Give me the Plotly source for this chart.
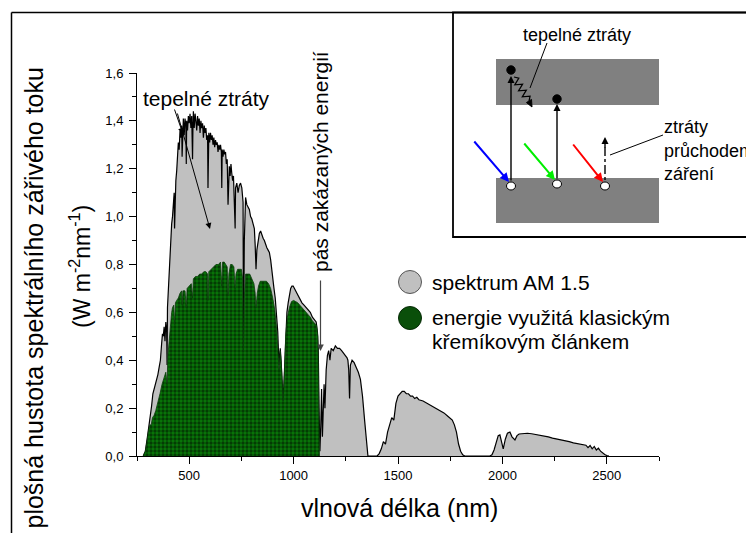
import math
import plotly.graph_objects as go

# ---------------- data ----------------
wl_am15 = [
    280, 290, 300, 305, 310, 316, 320, 326, 332, 340,
    350, 356, 362, 368, 372, 376, 380, 384, 388, 392,
    394, 396, 400, 404, 408, 412, 416, 420, 424, 428,
    430, 432, 436,
    440, 444, 448, 452, 456, 460, 464, 466, 468, 472,
    476, 480, 484, 486, 488, 492, 496, 500, 504, 508,
    512, 516, 518, 520, 524, 528, 532, 536, 540, 544,
    548, 552, 556, 560, 564, 568, 572, 576, 580, 584,
    588, 590, 594, 598, 602, 606, 610, 614, 618, 622,
    626, 630, 634, 638, 642, 646, 650, 654, 656, 658,
    662, 666, 670, 674, 678, 682, 686, 688, 692, 696,
    700, 704, 708, 712, 716, 720, 722, 728, 734, 740,
    746, 752, 758, 760, 764, 770, 776, 782, 788, 794,
    800, 806, 812, 816, 820, 824, 830, 836, 842, 848,
    854, 860, 866, 872, 878, 884, 890, 896, 900, 906,
    912, 918, 924, 930, 936, 940, 946, 950, 956, 962,
    968, 974, 980, 986, 992, 998, 1004, 1010, 1020, 1030,
    1040, 1050, 1060, 1070, 1080, 1090, 1100, 1108, 1114, 1118,
    1122, 1126, 1130, 1134, 1138, 1142, 1146, 1150, 1156, 1162,
    1168, 1174, 1180, 1190, 1200, 1210, 1220, 1230, 1240, 1250,
    1256, 1260, 1264, 1268, 1272, 1280, 1290, 1300, 1310, 1320,
    1330, 1340, 1350, 1356, 1360, 1400, 1410, 1420, 1430, 1440,
    1450, 1460, 1470, 1480, 1490, 1500, 1510, 1520, 1530, 1540,
    1550, 1560, 1570, 1580, 1590, 1600, 1620, 1640, 1660, 1680,
    1700, 1720, 1740, 1760, 1770, 1780, 1790, 1800, 1810, 1820,
    1940, 1950, 1960, 1970, 1980, 1988, 1996, 2004, 2014, 2024,
    2036, 2046, 2060, 2070, 2080, 2100, 2120, 2140, 2160, 2180,
    2200, 2220, 2240, 2260, 2280, 2300, 2320, 2340, 2360, 2380,
    2400, 2410, 2420, 2430, 2440, 2450, 2460, 2470, 2480, 2490,
    2500, 2510,
]
irr_am15 = [
    0.0, 0.02, 0.08, 0.11, 0.15, 0.17, 0.21, 0.26, 0.28, 0.30,
    0.34, 0.37, 0.40, 0.47, 0.51, 0.50, 0.54, 0.48, 0.56, 0.52,
    0.38, 0.62, 0.70, 0.80, 0.86, 0.93, 0.97, 1.00, 1.05, 1.10,
    0.95, 1.09, 1.15,
    1.19, 1.25, 1.31, 1.28, 1.36, 1.33, 1.38, 1.25, 1.37, 1.41,
    1.34, 1.41, 1.38, 1.22, 1.40, 1.36, 1.42, 1.39, 1.43, 1.37,
    1.42, 1.24, 1.38, 1.44, 1.37, 1.43, 1.40, 1.36, 1.42, 1.38,
    1.41, 1.35, 1.40, 1.37, 1.39, 1.33, 1.38, 1.35, 1.37, 1.32,
    1.34, 1.12, 1.35, 1.31, 1.35, 1.32, 1.34, 1.30, 1.33, 1.29,
    1.32, 1.30, 1.31, 1.27, 1.30, 1.28, 1.30, 1.27, 1.12, 1.28,
    1.25, 1.28, 1.26, 1.27, 1.22, 1.24, 1.05, 1.18, 1.21, 1.17,
    1.22, 1.18, 1.15, 1.17, 1.08, 0.95, 1.12, 1.14, 1.10, 1.13,
    1.14, 1.12, 1.06, 0.45, 0.90, 1.08, 1.05, 1.04, 1.03, 1.00,
    0.99, 0.97, 0.95, 0.88, 0.78, 0.86, 0.90, 0.93, 0.94, 0.92,
    0.91, 0.90, 0.88, 0.87, 0.86, 0.85, 0.82, 0.77, 0.72, 0.70,
    0.66, 0.58, 0.52, 0.38, 0.45, 0.40, 0.30, 0.23, 0.35, 0.52,
    0.60, 0.64, 0.67, 0.70, 0.71, 0.71, 0.70, 0.69, 0.67, 0.65,
    0.64, 0.63, 0.62, 0.61, 0.60, 0.58, 0.57, 0.56, 0.52, 0.45,
    0.20, 0.02, 0.12, 0.28, 0.08, 0.22, 0.30, 0.20, 0.36, 0.42,
    0.44, 0.40, 0.45, 0.44, 0.46, 0.45, 0.45, 0.44, 0.43, 0.42,
    0.41, 0.40, 0.36, 0.24, 0.38, 0.40, 0.39, 0.37, 0.35, 0.32,
    0.25, 0.15, 0.03, 0.0, 0.0, 0.0, 0.01, 0.03, 0.06, 0.05,
    0.10, 0.13, 0.16, 0.15, 0.22, 0.25, 0.26, 0.27, 0.27, 0.26,
    0.26, 0.25, 0.25, 0.24, 0.245, 0.235, 0.23, 0.22, 0.21, 0.20,
    0.19, 0.18, 0.165, 0.15, 0.13, 0.10, 0.05, 0.02, 0.005, 0.0,
    0.0, 0.005, 0.025, 0.06, 0.085, 0.088, 0.06, 0.03, 0.07, 0.095,
    0.10, 0.08, 0.067, 0.085, 0.092, 0.095, 0.095, 0.093, 0.09, 0.088,
    0.085, 0.08, 0.075, 0.072, 0.068, 0.064, 0.06, 0.055, 0.052, 0.048,
    0.045, 0.035, 0.044, 0.03, 0.04, 0.025, 0.033, 0.02, 0.012, 0.006,
    0.002, 0.0,
]

wl_si = [
    280, 290, 296, 300, 306, 312, 318, 324, 332, 340,
    350, 360, 370, 380, 388, 394, 398, 404, 410, 416,
    420, 426, 430, 434, 440, 448, 456, 464, 466, 470,
    480, 486, 490, 500, 510, 516, 520, 530, 540, 550,
    560, 570, 580, 588, 590, 594, 604, 616, 628, 640,
    650, 656, 660, 668, 676, 682, 686, 690, 698, 706,
    714, 720, 724, 732, 740, 750, 756, 760, 764, 770,
    780, 790, 800, 810, 816, 820, 826, 832, 840, 850,
    860, 870, 880, 890, 900, 910, 920, 930, 936, 940,
    946, 950, 956, 962, 970, 980, 990, 1000, 1010, 1020,
    1030, 1040, 1050, 1060, 1070, 1080, 1090, 1100, 1110, 1116,
    1120, 1122, 1124,
]
irr_si = [
    0.0, 0.02, 0.05, 0.08, 0.11, 0.13, 0.13, 0.16, 0.17, 0.19,
    0.22, 0.26, 0.30, 0.33, 0.35, 0.30, 0.42, 0.48, 0.55, 0.60,
    0.62, 0.63, 0.55, 0.64, 0.65, 0.66, 0.68, 0.69, 0.63, 0.69,
    0.69, 0.62, 0.70, 0.71, 0.72, 0.66, 0.74, 0.75, 0.75, 0.76,
    0.76, 0.77, 0.77, 0.76, 0.65, 0.77, 0.78, 0.79, 0.80, 0.80,
    0.81, 0.71, 0.81, 0.81, 0.80, 0.79, 0.67, 0.76, 0.80, 0.80,
    0.79, 0.70, 0.76, 0.78, 0.78, 0.78, 0.74, 0.44, 0.66, 0.76,
    0.76, 0.76, 0.74, 0.72, 0.68, 0.62, 0.68, 0.71, 0.73, 0.73,
    0.73, 0.73, 0.72, 0.70, 0.66, 0.61, 0.52, 0.36, 0.44, 0.40,
    0.30, 0.23, 0.34, 0.50, 0.58, 0.62, 0.645, 0.65, 0.645, 0.64,
    0.63, 0.62, 0.61, 0.60, 0.59, 0.58, 0.565, 0.555, 0.545, 0.50,
    0.30, 0.10, 0.0,
]

x_ticks = [500, 1000, 1500, 2000, 2500]
x_minor = [250, 750, 1250, 1750, 2250, 2750]
y_ticks = [0.0, 0.2, 0.4, 0.6, 0.8, 1.0, 1.2, 1.4, 1.6]
y_minor = [0.1, 0.3, 0.5, 0.7, 0.9, 1.1, 1.3, 1.5]

# ---------------- layout geometry ----------------
W, H = 746, 533
L, R, T, B = 137, 659, 73, 456   # plot area in pixels
FONT = "Liberation Sans, Arial, Helvetica, sans-serif"


def px(x):
    return (x - L) / (R - L)


def py(y):
    return (B - y) / (B - T)


fig = go.Figure()

fig.add_trace(go.Scatter(
    x=wl_am15, y=irr_am15, mode="lines",
    line=dict(color="black", width=1.2),
    fill="tozeroy", fillcolor="#C0C0C0",
    showlegend=False, hoverinfo="skip",
))
fig.add_trace(go.Scatter(
    x=wl_si, y=irr_si, mode="lines",
    line=dict(color="#0b3d0b", width=0.8),
    fill="tozeroy", fillcolor="#087808",
    fillpattern=dict(shape=".", bgcolor="#087808", fgcolor="#000000",
                     size=4, solidity=0.55),
    showlegend=False, hoverinfo="skip",
))

axis_font = dict(size=13, family=FONT, color="black")
fig.update_xaxes(
    range=[250, 2750], showline=True, linecolor="black", linewidth=1,
    ticks="outside", ticklen=7, tickwidth=1, tickcolor="black",
    tickvals=x_ticks, showgrid=False, zeroline=False, tickfont=axis_font,
    minor=dict(ticks="outside", ticklen=4, tickwidth=1, tickcolor="black",
               tickvals=x_minor, showgrid=False),
)
fig.update_yaxes(
    range=[0, 1.6], showline=True, linecolor="black", linewidth=1,
    ticks="outside", ticklen=7, tickwidth=1, tickcolor="black",
    tickvals=y_ticks, tickformat=".1f", showgrid=False, zeroline=False,
    tickfont=axis_font, ticklabelstandoff=3,
    minor=dict(ticks="outside", ticklen=4, tickwidth=1, tickcolor="black",
               tickvals=y_minor, showgrid=False),
)


def text(s, x, y, size, xanchor="center", angle=0):
    fig.add_annotation(text=s, x=px(x), y=py(y), xref="paper", yref="paper",
                       showarrow=False, xanchor=xanchor, yanchor="middle",
                       textangle=angle,
                       font=dict(size=size, family=FONT, color="black"))


def arrow(x0, y0, x1, y1, color="black", width=1.0, head=2, size=1.0):
    fig.add_annotation(x=px(x1), y=py(y1), ax=x0 - x1, ay=y0 - y1,
                       xref="paper", yref="paper", text="", showarrow=True,
                       arrowhead=head, arrowsize=size, arrowwidth=width,
                       arrowcolor=color, standoff=0, startstandoff=0)


def line(x0, y0, x1, y1, color="black", width=1.0, dash="solid"):
    fig.add_shape(type="line", xref="paper", yref="paper",
                  x0=px(x0), y0=py(y0), x1=px(x1), y1=py(y1),
                  line=dict(color=color, width=width, dash=dash))


def rect(x0, y0, x1, y1, fill="rgba(0,0,0,0)", lc="black", lw=0.0):
    fig.add_shape(type="rect", xref="paper", yref="paper",
                  x0=px(x0), y0=py(y1), x1=px(x1), y1=py(y0),
                  fillcolor=fill, line=dict(color=lc, width=lw))


def circle(cx, cy, rx, ry, fill, lc="black", lw=1.0):
    fig.add_shape(type="circle", xref="paper", yref="paper",
                  x0=px(cx - rx), x1=px(cx + rx), y0=py(cy + ry), y1=py(cy - ry),
                  fillcolor=fill, line=dict(color=lc, width=lw))


# outer frame (left and top edges)
line(11.5, 12.5, 11.5, 545, width=1.5)
line(11.5, 12.5, 760, 12.5, width=1.5)

# axis titles
text("vlnová délka (nm)", 399, 508, 25)
text("plošná hustota spektrálního zářivého toku", 33.5, 298, 25, angle=-90)
text("(W m<sup>-2</sup>nm<sup>-1</sup>)", 80, 267, 23, angle=-90)

# main annotations
text("tepelné ztráty", 206, 98, 21)
arrow(174, 108, 183, 134, width=1.0, size=1.2)
arrow(177, 112, 210, 229, width=1.0, size=1.2)

text("pás zakázaných energií", 320, 162, 21, angle=-90)
arrow(320.5, 279, 320.5, 351, color="#444444", width=1.2, size=1.1)

# legend
circle(410, 282, 11.5, 11.5, "#C0C0C0", lc="#555555", lw=1)
circle(410, 318, 11.5, 11.5, "#0a4f0a", lc="#062a06", lw=1)
text("spektrum AM 1.5", 430, 282, 21, xanchor="left")
text("energie využitá klasickým", 430, 317, 21, xanchor="left")
text("křemíkovým článkem", 430, 341, 21, xanchor="left")

# ---------------- inset ----------------
rect(453, 12.5, 770, 237, lc="black", lw=1.8)
rect(496, 59, 659, 105, fill="#808080")
rect(496, 178, 659, 223, fill="#808080")

text("tepelné ztráty", 577, 35, 18)
line(547, 43, 530, 88)
text("ztráty", 662, 127, 18, xanchor="left")
text("průchodem", 662, 151, 18, xanchor="left")
text("záření", 662, 174, 18, xanchor="left")
line(663, 135, 610, 155)

# vertical transitions
arrow(511, 182, 511, 76, width=1.4, size=1.0)
arrow(557, 180, 557, 104, width=1.4, size=1.0)
line(605, 147, 605, 181, width=1.4, dash="dashdot")
arrow(605, 149, 605, 137, width=1.4, size=1.0)

# incoming photons
arrow(473, 140, 509, 182, color="#0000ff", width=2, size=0.9)
arrow(523, 142, 555, 180, color="#00ee00", width=2, size=0.9)
arrow(572, 143, 603, 182, color="#ff0000", width=2, size=0.9)

# thermalisation zigzag
sx, sy, ex, ey = 514, 77, 529, 101
dx, dy = ex - sx, ey - sy
ln = math.hypot(dx, dy)
ux, uy = dx / ln, dy / ln
nx, ny = uy, -ux
n_seg = 8
pts = []
for i in range(n_seg + 1):
    t = i / n_seg
    a = 0 if i in (0, n_seg) else (3.5 if i % 2 else -3.5)
    pts.append((sx + dx * t + nx * a, sy + dy * t + ny * a))
path = "M " + " L ".join(f"{px(xx):.5f},{py(yy):.5f}" for xx, yy in pts)
fig.add_shape(type="path", xref="paper", yref="paper", path=path,
              line=dict(color="black", width=1.2))
tip = (532, 107)
b1 = (ex + nx * 3, ey + ny * 3)
b2 = (ex - nx * 3, ey - ny * 3)
tri = (f"M {px(tip[0]):.5f},{py(tip[1]):.5f} L {px(b1[0]):.5f},{py(b1[1]):.5f} "
       f"L {px(b2[0]):.5f},{py(b2[1]):.5f} Z")
fig.add_shape(type="path", xref="paper", yref="paper", path=tri,
              fillcolor="black", line=dict(color="black", width=1))

# electrons and holes
circle(511, 70, 4.2, 4.2, "black")
circle(557, 99, 4.2, 4.2, "black")
circle(511, 186, 4.5, 4, "white")
circle(557, 184, 4.5, 4, "white")
circle(605, 186, 4.5, 4, "white")

fig.update_layout(
    width=W, height=H, autosize=False,
    margin=dict(l=L, r=W - R, t=T, b=H - B, pad=0),
    paper_bgcolor="white", plot_bgcolor="white",
    separators=", ",
    font=dict(family=FONT, color="black"),
    showlegend=False,
)

fig.write_html("out.html")
